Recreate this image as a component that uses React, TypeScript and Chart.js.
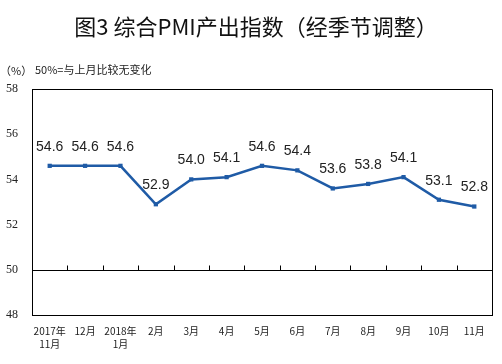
import React, { useEffect, useRef } from "react";
import { Chart, registerables } from "chart.js";

Chart.register(...registerables);

const TITLE = "图3 综合PMI产出指数（经季节调整）";
const UNIT = "（%）";
const NOTE = "50%=与上月比较无变化";
const categories: (string | string[])[] = [
  ["2017年", "11月"], "12月", ["2018年", "1月"], "2月", "3月", "4月", "5月", "6月", "7月", "8月", "9月", "10月", "11月",
];
const values = [54.6, 54.6, 54.6, 52.9, 54.0, 54.1, 54.6, 54.4, 53.6, 53.8, 54.1, 53.1, 52.8];
const yMin = 48;
const yMax = 58;
const yStep = 2;
const baseline = 50;

const LINE_COLOR = "#1f5ba6";

const overlayPlugin = {
  id: "overlay",
  afterDraw(chart: any) {
    const ctx = chart.ctx;
    const { left, right, top, bottom } = chart.chartArea;
    const xs = chart.scales.x;
    const ys = chart.scales.y;
    ctx.save();
    // title
    ctx.fillStyle = "#111";
    ctx.font = "22px 'Noto Sans CJK SC'";
    ctx.textAlign = "center";
    ctx.textBaseline = "middle";
    ctx.fillText(TITLE, chart.width / 2 + 5, 27);
    // unit and note
    ctx.font = "11px 'Noto Sans CJK SC'";
    ctx.fillStyle = "#222";
    ctx.textAlign = "left";
    ctx.fillText(UNIT, 0, 71);
    ctx.fillText(NOTE, 35, 70);
    // baseline axis at 50
    const yb = Math.round(ys.getPixelForValue(baseline)) + 0.5;
    ctx.strokeStyle = "#000";
    ctx.lineWidth = 1;
    ctx.beginPath();
    ctx.moveTo(left, yb);
    ctx.lineTo(right, yb);
    // tick marks at category boundaries
    const n = categories.length;
    for (let i = 1; i < n; i++) {
      const xp = Math.round((xs.getPixelForValue(i - 1) + xs.getPixelForValue(i)) / 2) + 0.5;
      ctx.moveTo(xp, yb);
      ctx.lineTo(xp, yb - 5);
    }
    ctx.stroke();
    // frame top and right
    ctx.beginPath();
    ctx.moveTo(left, Math.round(top) + 0.5);
    ctx.lineTo(Math.round(right) + 0.5, Math.round(top) + 0.5);
    ctx.lineTo(Math.round(right) + 0.5, bottom);
    ctx.stroke();
    // data labels
    ctx.font = "14px 'Liberation Sans'";
    ctx.fillStyle = "#222";
    ctx.textAlign = "center";
    ctx.textBaseline = "middle";
    const meta = chart.getDatasetMeta(0);
    meta.data.forEach((pt: any, i: number) => {
      ctx.fillText(values[i].toFixed(1), pt.x, pt.y - 19);
    });
    ctx.restore();
  },
};

export default function App() {
  const ref = useRef<HTMLCanvasElement>(null);
  useEffect(() => {
    if (!ref.current) return;
    const chart = new Chart(ref.current, {
      type: "line",
      data: {
        labels: categories,
        datasets: [
          {
            data: values,
            borderColor: LINE_COLOR,
            backgroundColor: LINE_COLOR,
            borderWidth: 2.5,
            pointStyle: "rect",
            pointRadius: 3,
            pointBorderWidth: 0,
            tension: 0,
          },
        ],
      },
      options: {
        animation: false,
        responsive: true,
        maintainAspectRatio: false,
        layout: { padding: { top: 89, right: 10, left: 0, bottom: 0 } },
        plugins: { legend: { display: false }, tooltip: { enabled: false }, title: { display: false } },
        scales: {
          x: {
            offset: true,
            grid: { display: false, drawTicks: false },
            border: { display: true, color: "#000", width: 1 },
            ticks: {
              padding: 10,
              color: "#222",
              font: { family: "'Noto Sans CJK SC'", size: 10, lineHeight: 1.3 },
              maxRotation: 0,
              autoSkip: false,
            },
            afterFit(scale: any) {
              scale.height = 49;
            },
          },
          y: {
            min: yMin,
            max: yMax,
            grid: { display: false, drawTicks: false },
            border: { display: true, color: "#000", width: 1 },
            ticks: {
              stepSize: yStep,
              padding: 14,
              color: "#222",
              font: { family: "'Liberation Serif'", size: 12 },
            },
            afterFit(scale: any) {
              scale.width = 32;
            },
          },
        },
      },
      plugins: [overlayPlugin],
    });
    return () => chart.destroy();
  }, []);
  return (
    <div style={{ position: "fixed", left: 0, top: 0, width: 502, height: 364, background: "#fff" }}>
      <canvas ref={ref} />
    </div>
  );
}
